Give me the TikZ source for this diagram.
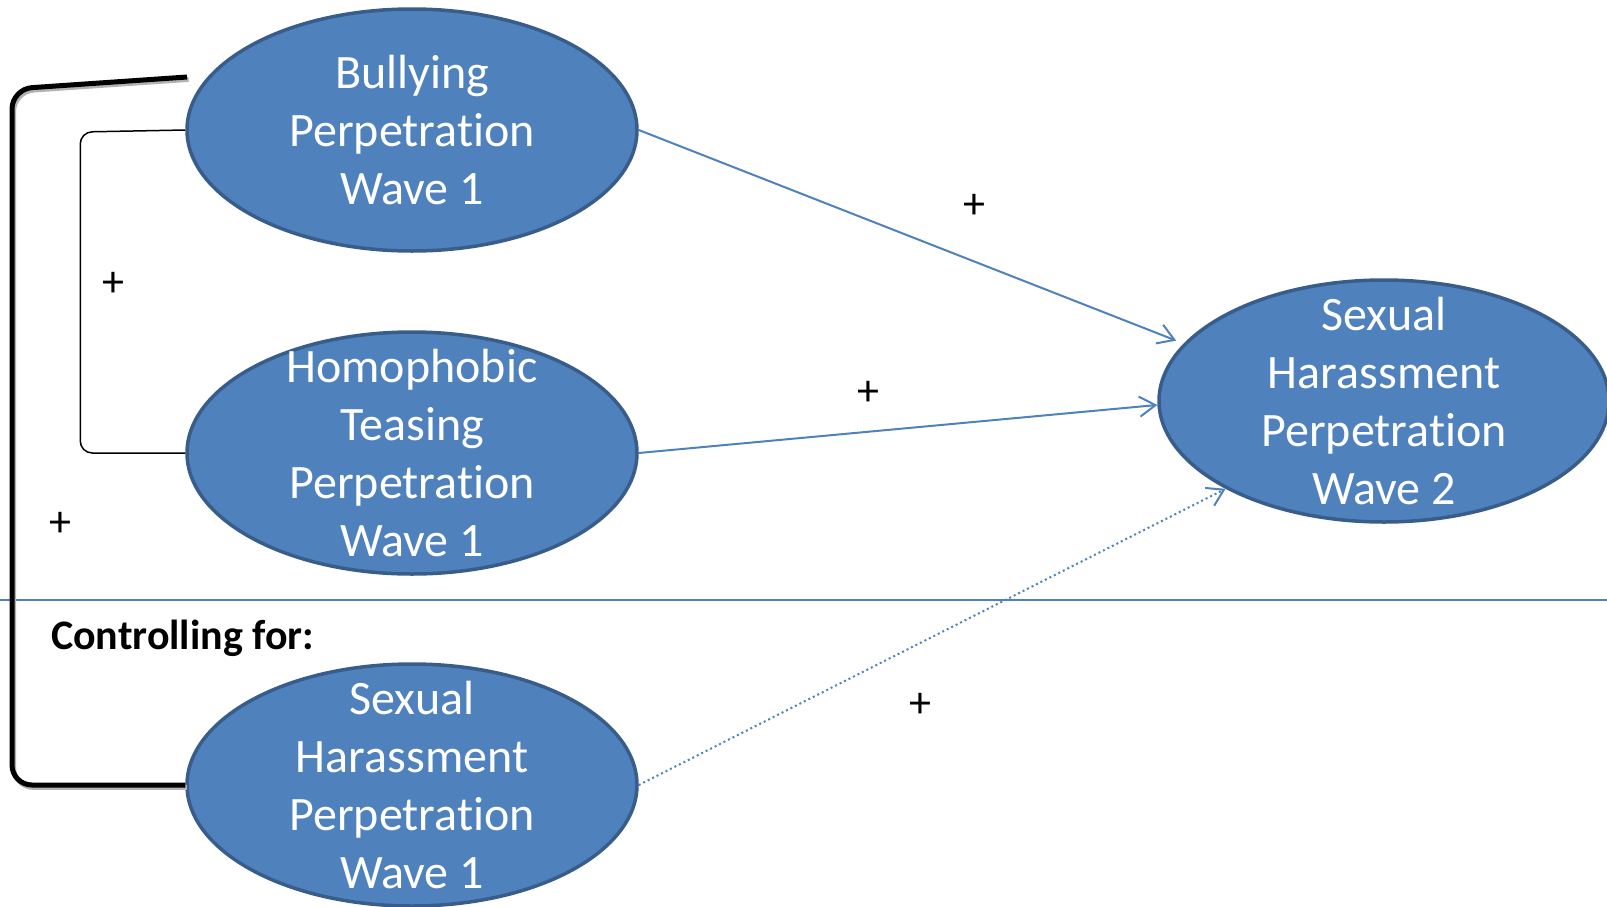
\documentclass[tikz,border=0pt]{standalone}
\usepackage{fontspec}
\setmainfont{Carlito}[Ligatures={NoCommon}]
\usetikzlibrary{shapes.geometric,arrows.meta}
\definecolor{ovalblue}{HTML}{4F81BD}
\definecolor{ovaledge}{HTML}{385D8A}
\tikzset{
    oval/.style={ellipse,draw=ovaledge,fill=ovalblue,line width=1.75pt,
        minimum width=225pt,minimum height=121pt,inner xsep=0pt,inner ysep=-25pt,
        align=center,text=white,font=\fontsize{24}{29}\selectfont},
    path arrow/.style={draw=ovalblue,line width=1pt,-{Straight Barb[length=8pt,width=10pt]}},
    sign/.style={font=\fontsize{22}{26}\selectfont},
    thin bracket/.style={line width=0.75pt,rounded corners=6pt},
    thick bracket/.style={line width=2.5pt,rounded corners=10pt,
        preaction={draw=black!30,line width=2.5pt,transform canvas={shift={(0.8pt,-1.2pt)}}}}
}
\begin{document}
\begin{tikzpicture}[x=0.5pt,y=-0.5pt]
    \useasboundingbox (0,0) rectangle (1607,906);
    %% ovals
    \node[oval] (bully) at (412,130) {Bullying\\Perpetration\\Wave 1};
    \node[oval] (homo) at (412,453) {Homophobic\\Teasing\\Perpetration\\Wave 1};
    \node[oval] (shone) at (412,785) {Sexual\\Harassment\\Perpetration\\Wave 1};
    \node[oval] (shtwo) at (1384,401) {Sexual\\Harassment\\Perpetration\\Wave 2};
    %% divider
    \coordinate (divl) at (0,600);
    \coordinate (divr) at (1607,600);
    \draw[ovalblue,line width=0.75pt] (divl) -- (divr);
    \node[anchor=west,font=\bfseries\fontsize{21}{25}\selectfont] (ctrl) at (44,638) {Controlling for:};
    %% paths
    \draw[path arrow,shorten >=4pt] (bully.east) -- (shtwo.164);
    \draw[path arrow] (homo.east) -- (shtwo.181);
    \draw[path arrow,dash pattern=on 1pt off 1.5pt] (shone.east) -- (shtwo.209);
    %% correlations
    \draw[thin bracket] (bully.west) -- ++(-105,2) |- (homo.west);
    \coordinate (topend) at (187,77);
    \draw[thick bracket] (topend) -- ++(-175,12) |- (shone.west);
    %% labels
    \node[sign] (p1) at (974,206) {+};
    \node[sign] (p2) at (113,284) {+};
    \node[sign] (p3) at (868,393) {+};
    \node[sign] (p4) at (60,524) {+};
    \node[sign] (p5) at (920,705) {+};
\end{tikzpicture}
\end{document}
